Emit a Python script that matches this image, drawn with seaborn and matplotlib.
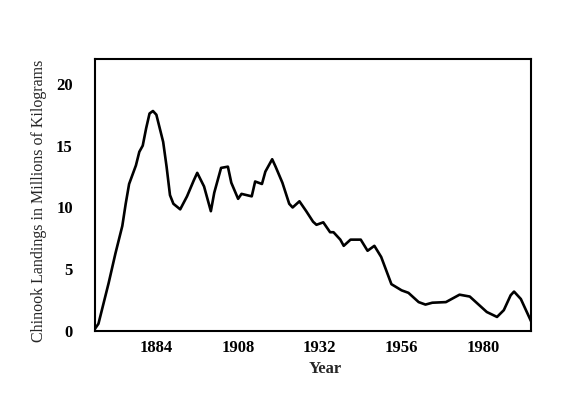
import pandas as pd
import seaborn as sns
import matplotlib.pyplot as plt

# values (millions of kg)
years = [1866, 1867, 1868, 1870, 1872, 1874, 1875, 1876, 1878, 1879, 1880, 1881,
         1882, 1883, 1884, 1886, 1887, 1888, 1889, 1891, 1893, 1895, 1896, 1898,
         1900, 1901, 1903, 1905, 1906, 1908, 1909, 1912, 1913, 1915, 1916, 1918,
         1919, 1921, 1923, 1924, 1926, 1928, 1930, 1931, 1933, 1935, 1936, 1938,
         1939, 1941, 1944, 1946, 1948, 1950, 1953, 1956, 1958, 1961, 1963, 1965,
         1969, 1973, 1976, 1978, 1981, 1984, 1986, 1988, 1989, 1991, 1994]
landings = [0.2, 0.6, 1.7, 3.9, 6.3, 8.5, 10.3, 11.9, 13.4, 14.5, 15.0, 16.4,
            17.6, 17.8, 17.5, 15.3, 13.3, 11.0, 10.3, 9.85, 10.9, 12.2, 12.8, 11.7,
            9.7, 11.2, 13.2, 13.3, 12.0, 10.7, 11.1, 10.9, 12.1, 11.9, 12.9, 13.9,
            13.3, 12.0, 10.3, 10.0, 10.5, 9.7, 8.85, 8.6, 8.8, 8.0, 8.0, 7.4,
            6.9, 7.4, 7.4, 6.5, 6.9, 6.0, 3.8, 3.3, 3.1, 2.35, 2.15, 2.3,
            2.35, 2.95, 2.8, 2.3, 1.55, 1.15, 1.7, 2.9, 3.2, 2.6, 0.8]

label_years = [1884, 1908, 1932, 1956, 1980]
y_ticks = [0, 5, 10, 15, 20]

df = pd.DataFrame({"Year": years, "Landings": landings})

sns.set_style("white")
plt.rcParams["font.family"] = ["Liberation Serif", "DejaVu Serif"]

fig = plt.figure(figsize=(5.76, 3.99), dpi=100)
ax = fig.add_axes([0.165, 0.170, 0.757, 0.682])

sns.lineplot(data=df, x="Year", y="Landings", color="black", linewidth=1.9, ax=ax)

ax.set_xlim(1866, 1994)
ax.set_ylim(0, 22)

# tick marks every 6 years, labels every 24
x_marks = list(range(1872, 1994, 6))
ax.set_xticks(x_marks)
ax.set_xticklabels([str(t) if t in label_years else "" for t in x_marks])
ax.set_yticks(y_ticks)

ax.tick_params(axis="both", direction="in", length=4, width=1, colors="black",
               labelsize=12)
ax.tick_params(axis="x", pad=6)
ax.tick_params(axis="y", pad=16)
for lab in ax.get_xticklabels() + ax.get_yticklabels():
    lab.set_fontweight("bold")

for s in ax.spines.values():
    s.set_visible(True)
    s.set_color("black")
    s.set_linewidth(1.5)

ax.set_xlabel("Year", fontsize=12, fontweight="bold")
ax.set_ylabel("Chinook Landings in Millions of Kilograms", fontsize=11.5)
ax.xaxis.set_label_coords(0.528, -0.11)
ax.yaxis.set_label_coords(-0.11, 0.48)

fig.savefig("out.png", dpi=100)
